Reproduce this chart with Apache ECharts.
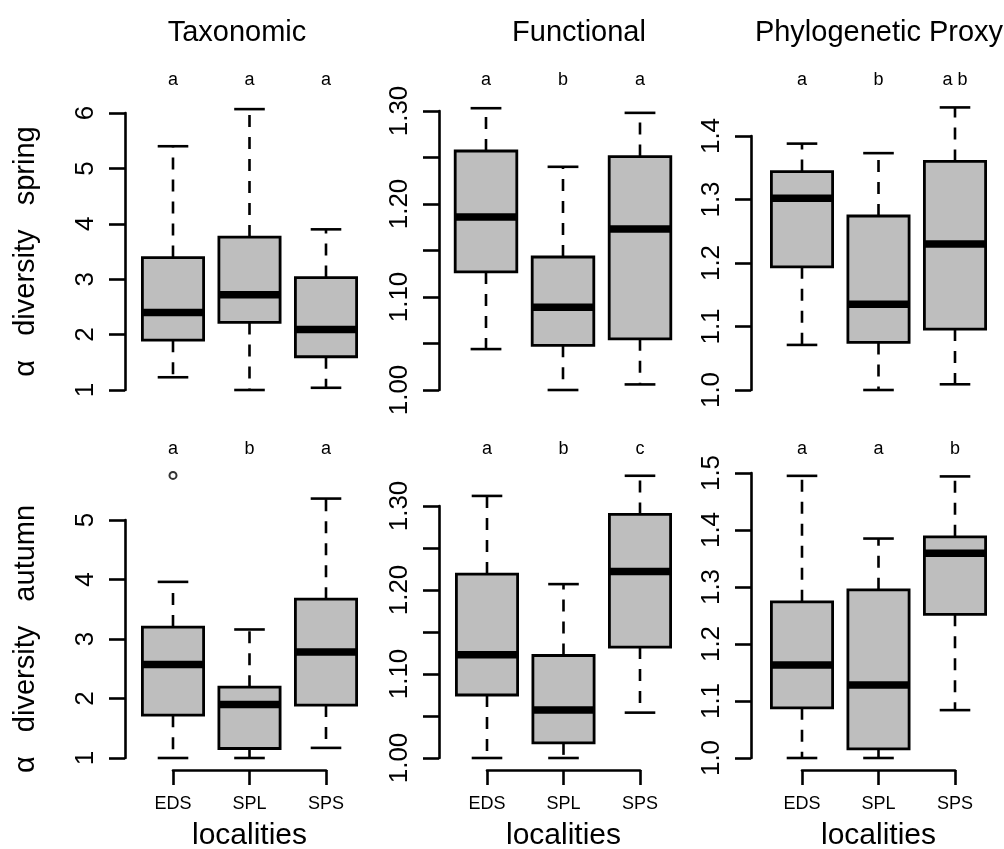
<!DOCTYPE html>
<html>
<head>
<meta charset="utf-8">
<title>alpha diversity by locality</title>
<script src="https://cdn.jsdelivr.net/npm/echarts@6/dist/echarts.min.js"></script>
<style>
  body { margin: 0; background: #fff; }
  #main { width: 1004px; height: 849px; }
</style>
</head>
<body>
<div id="main"></div>
<script>
// categories
var localities = ['EDS', 'SPL', 'SPS'];
var columnTitles = ['Taxonomic', 'Functional', 'Phylogenetic Proxy'];
var rowNames = ['α   diversity   spring', 'α   diversity   autumn'];
var xName = 'localities';

// box stats per locality: [min, Q1, median, Q3, max]
var taxSpring = [[1.23, 1.90, 2.40, 3.39, 5.40], [1.00, 2.22, 2.72, 3.76, 6.07], [1.04, 1.60, 2.09, 3.03, 3.90]];
var funSpring = [[1.044, 1.127, 1.186, 1.257, 1.303], [1.000, 1.048, 1.089, 1.143, 1.240], [1.006, 1.055, 1.173, 1.251, 1.298]];
var phySpring = [[1.071, 1.194, 1.302, 1.344, 1.388], [1.000, 1.075, 1.135, 1.274, 1.373], [1.009, 1.096, 1.230, 1.360, 1.445]];
var taxAutumn = [[1.00, 1.72, 2.57, 3.20, 3.96], [1.00, 1.16, 1.90, 2.19, 3.16], [1.17, 1.89, 2.78, 3.67, 5.36]];
var funAutumn = [[1.000, 1.075, 1.123, 1.219, 1.312], [1.000, 1.018, 1.057, 1.122, 1.207], [1.054, 1.132, 1.222, 1.290, 1.336]];
var phyAutumn = [[1.000, 1.088, 1.163, 1.274, 1.495], [1.000, 1.016, 1.128, 1.295, 1.385], [1.084, 1.252, 1.359, 1.388, 1.494]];

// outliers: [locality index, value]
var taxAutumnOut = [[0, 5.75]];

// significance letters
var lettersTaxSpring = ['a', 'a', 'a'];
var lettersFunSpring = ['a', 'b', 'a'];
var lettersPhySpring = ['a', 'b', 'a b'];
var lettersTaxAutumn = ['a', 'b', 'a'];
var lettersFunAutumn = ['a', 'b', 'c'];
var lettersPhyAutumn = ['a', 'a', 'b'];

// y axis ranges (ticks): [min, max, step]
var taxSpringTicks = [1, 6, 1];
var funTicks = [1.00, 1.30, 0.05];
var phySpringTicks = [1.0, 1.4, 0.1];
var taxAutumnTicks = [1, 5, 1];
var phyAutumnTicks = [1.0, 1.5, 0.1];

var FONT = 'Liberation Sans, Arial, sans-serif';

function fmtInt(v) { return String(Math.round(v)); }
function fmtFun(v) { return Math.round(v * 100) % 10 === 0 ? v.toFixed(2) : ''; }
function fmtPhy(v) { return v.toFixed(1); }

// layout of each panel (pixels)
var panels = [
  { stats: taxSpring, letters: lettersTaxSpring, ticks: taxSpringTicks, fmt: fmtInt,
    left: 173, width: 153, top: 113, height: 277, yOff: 48, row: 0 },
  { stats: funSpring, letters: lettersFunSpring, ticks: funTicks, fmt: fmtFun,
    left: 486, width: 154, top: 111, height: 279, yOff: 47, row: 0 },
  { stats: phySpring, letters: lettersPhySpring, ticks: phySpringTicks, fmt: fmtPhy,
    left: 802, width: 153, top: 136, height: 254, yOff: 51, row: 0 },
  { stats: taxAutumn, letters: lettersTaxAutumn, ticks: taxAutumnTicks, fmt: fmtInt,
    left: 173, width: 153, top: 520, height: 238, yOff: 48, row: 1 },
  { stats: funAutumn, letters: lettersFunAutumn, ticks: funTicks, fmt: fmtFun,
    left: 487, width: 153, top: 506, height: 252, yOff: 48, row: 1 },
  { stats: phyAutumn, letters: lettersPhyAutumn, ticks: phyAutumnTicks, fmt: fmtPhy,
    left: 802, width: 153, top: 473, height: 285, yOff: 51, row: 1 }
];
var letterY = [80, 449];

function renderBox(params, api) {
  var i = api.value(0);
  var w = api.size([1, 0])[0];
  var x = api.coord([i, 0])[0];
  var yMin = api.coord([i, api.value(1)])[1];
  var yQ1 = api.coord([i, api.value(2)])[1];
  var yMed = api.coord([i, api.value(3)])[1];
  var yQ3 = api.coord([i, api.value(4)])[1];
  var yMax = api.coord([i, api.value(5)])[1];
  var bw = 0.8 * w, cw = 0.4 * w;
  var dash = { stroke: '#000', lineWidth: 2.6, lineDash: [12, 10], fill: null };
  var solid = { stroke: '#000', lineWidth: 2.6, fill: null };
  return {
    type: 'group',
    children: [
      { type: 'line', shape: { x1: x, y1: yQ3, x2: x, y2: yMax }, style: dash },
      { type: 'line', shape: { x1: x, y1: yQ1, x2: x, y2: yMin }, style: dash },
      { type: 'line', shape: { x1: x - cw / 2, y1: yMax, x2: x + cw / 2, y2: yMax }, style: solid },
      { type: 'line', shape: { x1: x - cw / 2, y1: yMin, x2: x + cw / 2, y2: yMin }, style: solid },
      { type: 'rect', shape: { x: x - bw / 2, y: yQ3, width: bw, height: yQ1 - yQ3 },
        style: { fill: '#bebebe', stroke: '#000', lineWidth: 2.8 } },
      { type: 'line', shape: { x1: x - bw / 2, y1: yMed, x2: x + bw / 2, y2: yMed },
        style: { stroke: '#000', lineWidth: 7.5, lineCap: 'butt' } }
    ]
  };
}

var grids = [], xAxes = [], yAxes = [], series = [];

panels.forEach(function (p, k) {
  grids.push({ left: p.left, top: p.top, width: p.width, height: p.height,
               containLabel: false, outerBoundsMode: 'none' });

  // bottom category axis (locality names)
  xAxes.push({
    type: 'category', gridIndex: k, data: localities, boundaryGap: false,
    position: 'bottom', offset: 12,
    show: p.row === 1,
    axisLine: { lineStyle: { color: '#000', width: 2.6 } },
    axisTick: { length: 15, lineStyle: { color: '#000', width: 2.6 } },
    axisLabel: { color: '#000', fontSize: 18, margin: 25, fontFamily: FONT },
    name: p.row === 1 ? xName : '',
    nameLocation: 'middle', nameGap: 51,
    nameTextStyle: { color: '#000', fontSize: 30, fontFamily: FONT }
  });
  // top axis used for the significance letters
  xAxes.push({
    type: 'category', gridIndex: k, data: p.letters, boundaryGap: false,
    position: 'top',
    axisLine: { show: false }, axisTick: { show: false },
    axisLabel: { color: '#000', fontSize: 18, fontFamily: FONT,
                 margin: p.top - letterY[p.row] - 9 }
  });

  yAxes.push({
    type: 'value', gridIndex: k,
    min: p.ticks[0], max: p.ticks[1], interval: p.ticks[2],
    offset: p.yOff,
    splitLine: { show: false },
    axisLine: { show: true, lineStyle: { color: '#000', width: 2.6 } },
    axisTick: { show: true, length: 16, lineStyle: { color: '#000', width: 2.6 } },
    axisLabel: { color: '#000', fontSize: 26, rotate: 90, margin: 26, fontFamily: FONT,
                 formatter: p.fmt },
    name: (k % 3 === 0) ? rowNames[p.row] : '',
    nameLocation: 'middle', nameGap: 85, nameRotate: 90,
    nameTextStyle: { color: '#000', fontSize: 29, fontFamily: FONT }
  });

  series.push({
    type: 'custom',
    xAxisIndex: 2 * k, yAxisIndex: k,
    renderItem: renderBox,
    clip: false,
    encode: { x: 0, y: [1, 2, 3, 4, 5] },
    data: p.stats.map(function (s, i) { return [i].concat(s); })
  });
});

// outlier (taxonomic, autumn)
series.push({
  type: 'scatter', xAxisIndex: 6, yAxisIndex: 3, clip: false,
  symbol: 'circle', symbolSize: 7,
  itemStyle: { color: '#fff', borderColor: '#000', borderWidth: 2 },
  data: taxAutumnOut
});

var titleCenters = [232, 574, 874];
var titles = columnTitles.map(function (t, i) {
  return { text: t, left: titleCenters[i], top: 13, textAlign: 'center',
           textStyle: { color: '#000', fontSize: 29, fontWeight: 'normal', fontFamily: FONT } };
});

var myChart = echarts.init(document.getElementById('main'));
var option = {
  backgroundColor: '#fff',
  animation: false,
  title: titles,
  grid: grids,
  xAxis: xAxes,
  yAxis: yAxes,
  series: series
};
option && myChart.setOption(option);
</script>
</body>
</html>
